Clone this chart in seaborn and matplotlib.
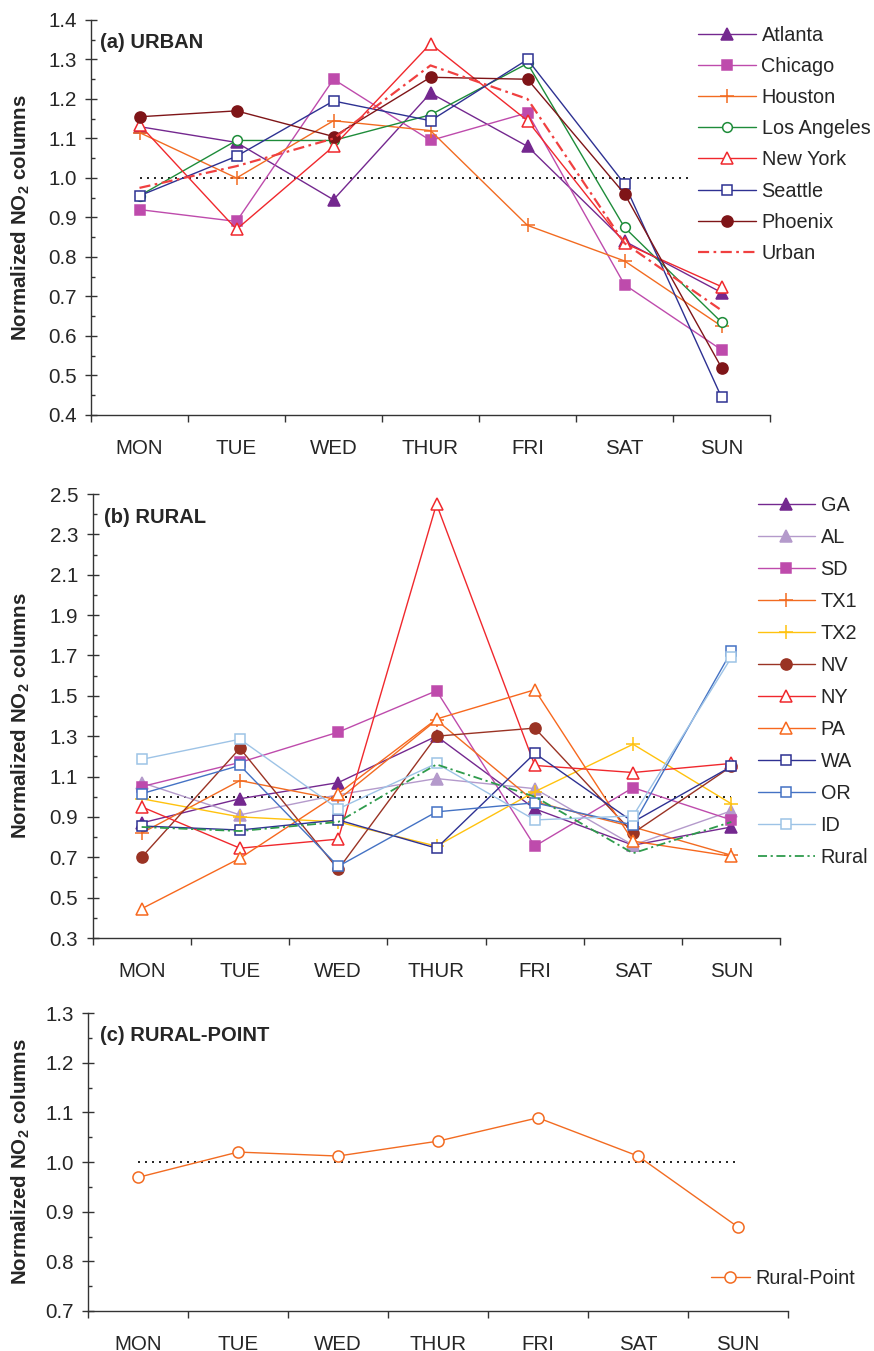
import numpy as np
import pandas as pd
import matplotlib
matplotlib.use("Agg")
import matplotlib.pyplot as plt
from matplotlib.ticker import FormatStrFormatter
import seaborn as sns

days = ["MON", "TUE", "WED", "THUR", "FRI", "SAT", "SUN"]

# (a) urban sites
atlanta = [1.13, 1.09, 0.945, 1.215, 1.08, 0.84, 0.71]
chicago = [0.92, 0.89, 1.25, 1.095, 1.165, 0.73, 0.565]
houston = [1.115, 1.0, 1.145, 1.12, 0.88, 0.79, 0.625]
los_angeles = [0.955, 1.095, 1.095, 1.16, 1.29, 0.875, 0.635]
new_york = [1.135, 0.87, 1.08, 1.34, 1.145, 0.835, 0.725]
seattle = [0.955, 1.055, 1.195, 1.145, 1.30, 0.985, 0.445]
phoenix = [1.155, 1.17, 1.105, 1.255, 1.25, 0.96, 0.52]
urban = [0.975, 1.03, 1.10, 1.285, 1.20, 0.835, 0.665]

# (b) rural sites
ga = [0.87, 0.99, 1.07, 1.30, 0.94, 0.76, 0.85]
al = [1.07, 0.91, 1.01, 1.09, 1.04, 0.76, 0.93]
sd = [1.05, 1.17, 1.32, 1.525, 0.755, 1.045, 0.885]
tx1 = [0.82, 1.08, 0.985, 1.38, 0.975, 0.85, 0.71]
tx2 = [0.99, 0.90, 0.875, 0.755, 1.025, 1.26, 0.965]
nv = [0.70, 1.24, 0.64, 1.30, 1.34, 0.82, 1.15]
ny = [0.95, 0.745, 0.79, 2.45, 1.155, 1.12, 1.165]
pa = [0.445, 0.695, 1.015, 1.385, 1.53, 0.78, 0.705]
wa = [0.855, 0.835, 0.885, 0.745, 1.215, 0.875, 1.15]
or_ = [1.015, 1.155, 0.655, 0.925, 0.97, 0.86, 1.72]
id_ = [1.185, 1.285, 0.94, 1.165, 0.885, 0.905, 1.69]
rural = [0.85, 0.83, 0.875, 1.16, 1.0, 0.72, 0.875]

# (c) rural point source
rural_point = [0.969, 1.020, 1.012, 1.042, 1.089, 1.012, 0.869]

sns.set_style("ticks")
plt.rcParams["font.family"] = ["Liberation Sans", "DejaVu Sans"]
plt.rcParams["mathtext.fontset"] = "custom"
plt.rcParams["mathtext.rm"] = "Liberation Sans"
plt.rcParams["mathtext.bf"] = "Liberation Sans:bold"

W, H = 874, 1351
fig = plt.figure(figsize=(W / 100, H / 100), dpi=100)


def add_axes(left, right, top, bottom):
    return fig.add_axes([left / W, 1 - bottom / H, (right - left) / W, (bottom - top) / H])


ax_a = add_axes(91, 770, 20, 415)
ax_b = add_axes(92.5, 780.5, 494, 938)
ax_c = add_axes(88, 788, 1013, 1311)


def draw(ax, vals, label, color, marker=None, filled=True, ms=7, ls="-", lw=1.0):
    df = pd.DataFrame({"day": days, "val": vals})
    kw = dict(color=color, lw=lw, linestyle=ls, label=label)
    if marker:
        kw.update(marker=marker, ms=ms, mec=color, mew=1.1,
                  mfc=color if filled else "white")
    sns.lineplot(data=df, x="day", y="val", ax=ax, sort=False, estimator=None, **kw)


def style_axis(ax, ylo, yhi, major, minor):
    ax.plot([days[0], days[-1]], [1.0, 1.0], color="black", lw=1.2,
            ls=(0, (1.2, 3)), zorder=1)
    ax.set_xlim(-0.5, 6.5)
    ax.set_ylim(ylo, yhi)
    ax.set_yticks(np.arange(ylo, yhi + 1e-9, major))
    ax.set_yticks(np.arange(ylo, yhi + 1e-9, minor), minor=True)
    ax.yaxis.set_major_formatter(FormatStrFormatter("%.1f"))
    ax.set_xticks(np.arange(-0.5, 7, 1))
    ax.set_xticks(np.arange(7), minor=True)
    ax.set_xticklabels(days, minor=True)
    ax.tick_params(axis="x", which="major", direction="out", length=5, width=1,
                   color="#333333", labelbottom=False)
    ax.tick_params(axis="x", which="minor", length=0, pad=17, labelsize=14.8)
    ax.tick_params(axis="y", which="major", direction="inout", length=8.6, width=1,
                   color="#333333", pad=6, labelsize=14.8)
    ax.tick_params(axis="y", which="minor", direction="in", length=2.6, width=1,
                   color="#333333")
    for s in ["top", "right"]:
        ax.spines[s].set_visible(False)
    for s in ["left", "bottom"]:
        ax.spines[s].set_color("#333333")
        ax.spines[s].set_linewidth(1)
    ax.set_xlabel("")
    ax.set_ylabel(r"Normalized NO$_\mathbf{2}$ columns", fontsize=14.8, fontweight="bold")


# panel (a)
draw(ax_a, atlanta, "Atlanta", "#74288F", "^", ms=8)
draw(ax_a, chicago, "Chicago", "#BE4BAC", "s")
draw(ax_a, houston, "Houston", "#F26B21", "+", ms=10)
draw(ax_a, los_angeles, "Los Angeles", "#1E8C3A", "o", filled=False)
draw(ax_a, new_york, "New York", "#F0282D", "^", filled=False, ms=9)
draw(ax_a, seattle, "Seattle", "#2E3192", "s", filled=False)
draw(ax_a, phoenix, "Phoenix", "#7F1518", "o", ms=8)
draw(ax_a, urban, "Urban", "#F04040", ls=(0, (5, 2, 1.2, 2)), lw=1.6)
style_axis(ax_a, 0.4, 1.4, 0.1, 0.05)
ax_a.yaxis.set_label_coords((32 - 91) / 679, 0.5)
ax_a.text(0.013, 0.944, "(a) URBAN", transform=ax_a.transAxes, fontsize=14.5,
          fontweight="bold", va="center", ha="left")

# panel (b)
draw(ax_b, ga, "GA", "#74288F", "^", ms=8)
draw(ax_b, al, "AL", "#B49ACB", "^", ms=8)
draw(ax_b, sd, "SD", "#BE4BAC", "s")
draw(ax_b, tx1, "TX1", "#F26B21", "+", ms=10)
draw(ax_b, tx2, "TX2", "#FFC20E", "+", ms=10)
draw(ax_b, nv, "NV", "#9A3324", "o", ms=8)
draw(ax_b, ny, "NY", "#F0282D", "^", filled=False, ms=9)
draw(ax_b, pa, "PA", "#F7681E", "^", filled=False, ms=9)
draw(ax_b, wa, "WA", "#2E3192", "s", filled=False)
draw(ax_b, or_, "OR", "#4472C4", "s", filled=False)
draw(ax_b, id_, "ID", "#9DC3E6", "s", filled=False)
draw(ax_b, rural, "Rural", "#2E9B4C", ls=(0, (5, 2, 1.2, 2)), lw=1.3)
style_axis(ax_b, 0.3, 2.5, 0.2, 0.1)
ax_b.yaxis.set_label_coords((32 - 92.5) / 688, 0.5)
ax_b.text(0.017, 0.948, "(b) RURAL", transform=ax_b.transAxes, fontsize=14.5,
          fontweight="bold", va="center", ha="left")

# panel (c)
draw(ax_c, rural_point, "Rural-Point", "#F26B21", "o", filled=False, ms=8)
style_axis(ax_c, 0.7, 1.3, 0.1, 0.05)
ax_c.yaxis.set_label_coords((32 - 88) / 700, 0.5)
ax_c.text(0.017, 0.926, "(c) RURAL-POINT", transform=ax_c.transAxes, fontsize=14.5,
          fontweight="bold", va="center", ha="left")


def legend(ax, x, y, hl, sp):
    leg = ax.legend(loc="upper left", bbox_to_anchor=(x / W, 1 - y / H),
                    bbox_transform=fig.transFigure, frameon=True, facecolor="white",
                    framealpha=1, fancybox=False, fontsize=14.3, handlelength=hl,
                    handletextpad=0.3, labelspacing=sp, borderpad=0.4,
                    borderaxespad=0, numpoints=1)
    leg.get_frame().set_linewidth(0)
    return leg


legend(ax_a, 690, 18, 2.9, 0.61)
legend(ax_b, 750, 488, 2.85, 0.655)
legend(ax_c, 703, 1261, 1.95, 0.45)

fig.savefig("out.png", dpi=100)
